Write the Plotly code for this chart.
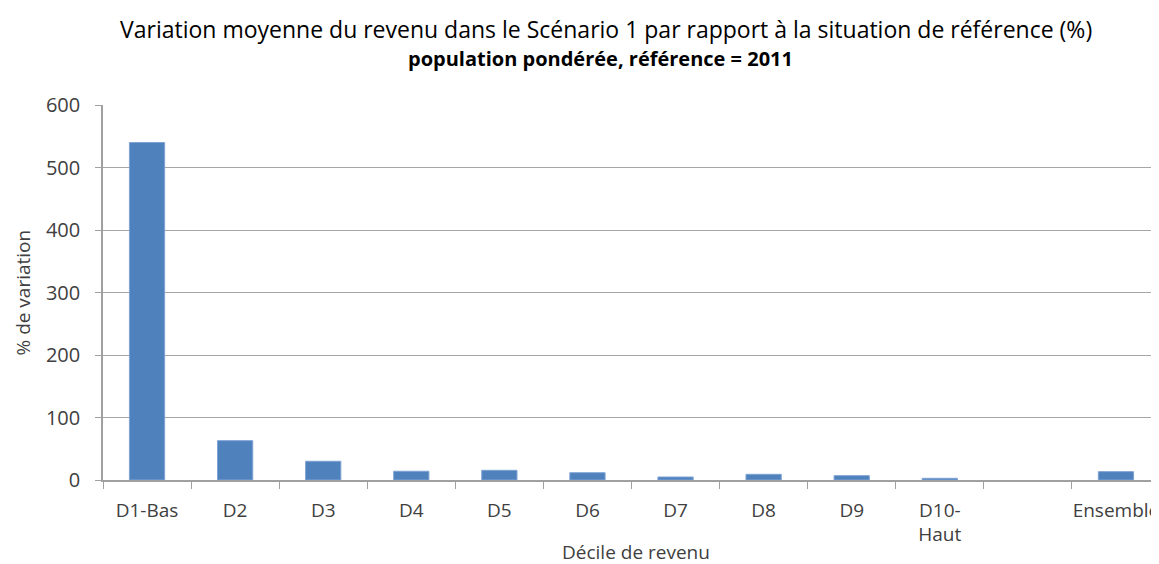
import plotly.graph_objects as go

# deciles of income, blank slot before the total
categories = ["D1-Bas", "D2", "D3", "D4", "D5", "D6", "D7", "D8", "D9", "D10-<br>Haut", " ", "Ensemble"]
variation = [540, 63, 30, 14, 15.5, 11.7, 4.8, 9.1, 7, 2.7, None, 13.4]
y_ticks = [0, 100, 200, 300, 400, 500, 600]

FONT = "Open Sans, sans-serif"
GREY = "#404040"

fig = go.Figure()
fig.add_trace(go.Bar(
    x=categories, y=variation,
    marker=dict(color="#4F81BD", line=dict(color="#7FA3D4", width=1)),
    width=0.4,
))

# the page body adds an 8px offset, so margins are shifted by 8
fig.update_layout(
    width=1159, height=564,
    margin=dict(l=95, r=7, t=97, b=92),
    paper_bgcolor="white", plot_bgcolor="white",
    showlegend=False,
    font=dict(family=FONT, color=GREY, size=18),
)

# titles placed by hand
fig.add_annotation(text="Variation moyenne du revenu dans le Scénario 1 par rapport à la situation de référence (%)",
                   xref="paper", yref="paper", x=0.476, y=1.0, yshift=76, showarrow=False,
                   xanchor="center", yanchor="middle", font=dict(size=23, color="black"))
fig.add_annotation(text="<b>population pondérée, référence = 2011</b>",
                   xref="paper", yref="paper", x=0.471, y=1.0, yshift=47, showarrow=False,
                   xanchor="center", yanchor="middle", font=dict(size=20, color="black"))
fig.add_annotation(text="Décile de revenu", xref="paper", yref="paper", x=0.504, y=0, yshift=-72,
                   showarrow=False, xanchor="center", yanchor="middle", font=dict(size=19, color=GREY))
fig.add_annotation(text="% de variation", xref="paper", yref="paper", x=0, xshift=-81, y=0.5,
                   textangle=-90, showarrow=False, xanchor="center", yanchor="middle",
                   font=dict(size=19, color=GREY))

fig.update_xaxes(
    type="category", range=[-0.5, 11.5], automargin=False, tickangle=0,
    showline=True, linecolor="#A0A0A0", linewidth=1.5,
    ticks="outside", tickson="boundaries", ticklen=7, tickcolor="#A0A0A0",
    ticklabelstandoff=12,
    tickfont=dict(size=19, color=GREY),
)
fig.update_yaxes(
    range=[0, 600], tickvals=y_ticks, automargin=False,
    showline=True, linecolor="#A0A0A0", linewidth=1.5,
    ticks="outside", ticklen=6, tickcolor="#A0A0A0",
    ticklabelstandoff=11,
    showgrid=True, gridcolor="#A6A6A6", gridwidth=1,
    zeroline=False,
    tickfont=dict(size=20, color=GREY),
)

fig.write_html("out.html")
